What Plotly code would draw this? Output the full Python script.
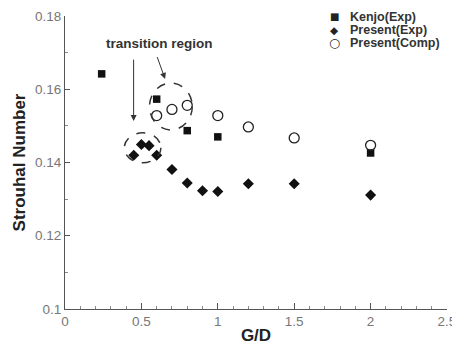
import plotly.graph_objects as go

# Data
kenjo_x = [0.24, 0.6, 0.8, 1.0, 2.0]
kenjo_y = [0.1642, 0.1573, 0.1487, 0.1470, 0.1426]

pexp_x = [0.45, 0.5, 0.55, 0.6, 0.7, 0.8, 0.9, 1.0, 1.2, 1.5, 2.0]
pexp_y = [0.1420, 0.1449, 0.1446, 0.1420, 0.1381, 0.1344, 0.1323, 0.1321, 0.1342, 0.1342, 0.1311]

pcomp_x = [0.6, 0.7, 0.8, 1.0, 1.2, 1.5, 2.0]
pcomp_y = [0.1528, 0.1545, 0.1556, 0.1528, 0.1497, 0.1467, 0.1447]

series_names = ["Kenjo(Exp)", "Present(Exp)", "Present(Comp)"]
legend_glyphs = ["■", "◆", "○"]

x_ticks = [0, 0.5, 1, 1.5, 2, 2.5]
x_ticklabels = ["0", "0.5", "1", "1.5", "2", "2.5"]
y_ticks = [0.1, 0.12, 0.14, 0.16, 0.18]
y_ticklabels = ["0.1", "0.12", "0.14", "0.16", "0.18"]

# dashed ellipses: (cx, cy, rx, ry)
ellipses = [(0.508, 0.1440, 0.12, 0.0041), (0.693, 0.1553, 0.14, 0.0064)]
note_text = "transition region"
note_pos = (0.62, 0.1726)
arrows = [((0.449, 0.1685), (0.449, 0.1513)), ((0.60, 0.1692), (0.655, 0.1628))]

FONT = "Liberation Sans, Arial, sans-serif"

fig = go.Figure()
fig.add_trace(go.Scatter(x=kenjo_x, y=kenjo_y, mode="markers", name=series_names[0],
                         marker=dict(symbol="square", size=7.5, color="#111")))
fig.add_trace(go.Scatter(x=pexp_x, y=pexp_y, mode="markers", name=series_names[1],
                         marker=dict(symbol="diamond", size=8.5, color="#111")))
fig.add_trace(go.Scatter(x=pcomp_x, y=pcomp_y, mode="markers", name=series_names[2],
                         marker=dict(symbol="circle-open", size=10, color="#222",
                                     line=dict(width=1.3, color="#222"))))

for cx, cy, rx, ry in ellipses:
    fig.add_shape(type="circle", xref="x", yref="y", x0=cx - rx, x1=cx + rx,
                  y0=cy - ry, y1=cy + ry,
                  line=dict(color="#333", width=1.5, dash="dash"))

fig.add_annotation(x=note_pos[0], y=note_pos[1], text="<b>" + note_text + "</b>", showarrow=False,
                   font=dict(family=FONT, size=13.5, color="#333"))
for (x0, y0), (x1, y1) in arrows:
    fig.add_annotation(x=x1, y=y1, ax=x0, ay=y0, xref="x", yref="y", axref="x", ayref="y",
                       text="", showarrow=True, arrowhead=2, arrowsize=1.2,
                       arrowwidth=1, arrowcolor="#333")

# legend drawn as text rows
leg_y = [0.997, 0.952, 0.908]
glyph_sizes = [10, 10.5, 12.5]
for name, glyph, gs, yy in zip(series_names, legend_glyphs, glyph_sizes, leg_y):
    fig.add_annotation(x=0.706, y=yy, xref="paper", yref="paper", text=glyph, showarrow=False,
                       xanchor="center", yanchor="middle",
                       font=dict(family="DejaVu Sans", size=gs, color="#222"))
    fig.add_annotation(x=0.742, y=yy, xref="paper", yref="paper", text="<b>" + name + "</b>",
                       showarrow=False, xanchor="left", yanchor="middle",
                       font=dict(family=FONT, size=12.5, color="#333"))

axis_common = dict(showline=True, linecolor="#555", linewidth=1.2, ticks="inside",
                   tickcolor="#555", showgrid=False, zeroline=False, mirror=False,
                   automargin=False, ticklabeloverflow="allow",
                   tickfont=dict(family=FONT, size=13.5, color="#777"))
fig.update_xaxes(range=[0, 2.5], tickvals=x_ticks, ticktext=x_ticklabels, ticklen=6,
                 minor=dict(dtick=0.1, tick0=0, ticks="inside", ticklen=3, tickcolor="#888"),
                 title=dict(text="<b>G/D</b>", font=dict(family=FONT, size=17, color="#222"),
                            standoff=0),
                 **axis_common)
fig.update_yaxes(range=[0.1, 0.18], tickvals=y_ticks, ticktext=y_ticklabels, ticklen=5,
                 minor=dict(dtick=0.01, tick0=0.1, ticks="inside", ticklen=3, tickcolor="#888"),
                 title=dict(text="<b>Strouhal Number</b>", font=dict(family=FONT, size=17, color="#222"),
                            standoff=4),
                 **axis_common)

# page body adds an 8px margin, so the figure is sized to fit the 460x345 window
fig.update_layout(
    width=452, height=337,
    margin=dict(l=57, r=13, t=8, b=36),
    plot_bgcolor="white", paper_bgcolor="white",
    showlegend=False,
)

fig.write_html("out.html")
